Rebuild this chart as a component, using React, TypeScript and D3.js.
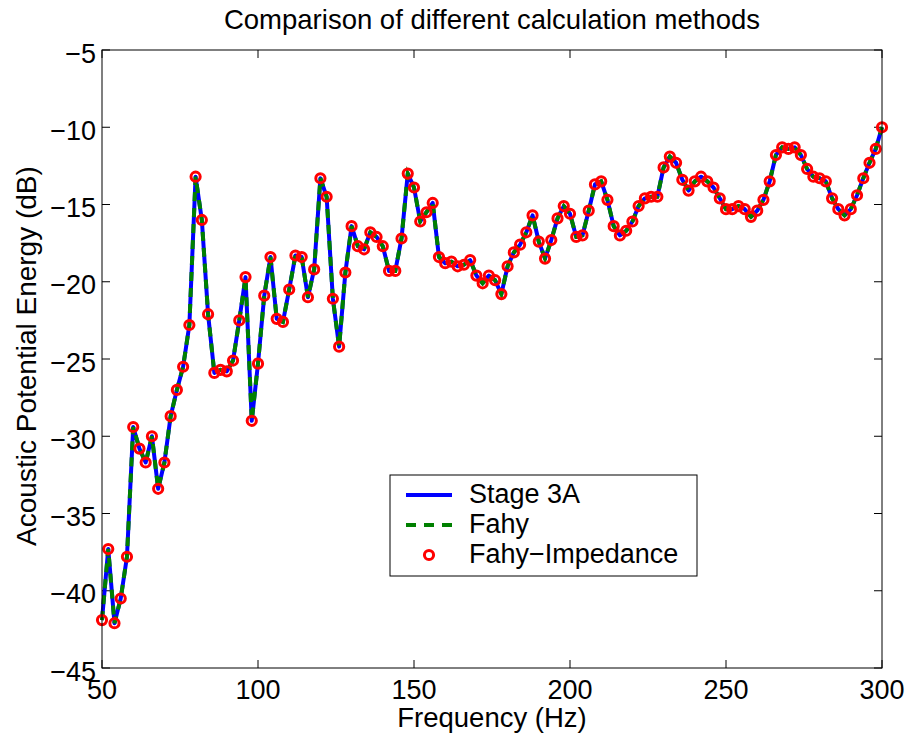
import React from "react";
import * as d3 from "d3";

const frequencies: number[] = [
  50, 52, 54, 56, 58, 60, 62, 64, 66, 68, 70, 72, 74, 76, 78, 80, 82, 84, 86, 88,
  90, 92, 94, 96, 98, 100, 102, 104, 106, 108, 110, 112, 114, 116, 118, 120, 122, 124, 126, 128,
  130, 132, 134, 136, 138, 140, 142, 144, 146, 148, 150, 152, 154, 156, 158, 160, 162, 164, 166, 168,
  170, 172, 174, 176, 178, 180, 182, 184, 186, 188, 190, 192, 194, 196, 198, 200, 202, 204, 206, 208,
  210, 212, 214, 216, 218, 220, 222, 224, 226, 228, 230, 232, 234, 236, 238, 240, 242, 244, 246, 248,
  250, 252, 254, 256, 258, 260, 262, 264, 266, 268, 270, 272, 274, 276, 278, 280, 282, 284, 286, 288,
  290, 292, 294, 296, 298, 300,
];

const stage3A: number[] = [
  -41.9, -37.3, -42.1, -40.5, -37.8, -29.4, -30.8, -31.7, -30.0, -33.4,
  -31.7, -28.7, -27.0, -25.5, -22.8, -13.2, -16.0, -22.1, -25.9, -25.7,
  -25.8, -25.1, -22.5, -19.7, -29.0, -25.3, -20.9, -18.4, -22.4, -22.6,
  -20.5, -18.3, -18.4, -21.0, -19.2, -13.3, -14.5, -21.1, -24.2, -19.4,
  -16.4, -17.7, -17.9, -16.8, -17.1, -17.7, -19.3, -19.3, -17.2, -13.0,
  -13.9, -16.1, -15.5, -14.9, -18.4, -18.8, -18.7, -19.0, -18.9, -18.6,
  -19.6, -20.1, -19.6, -19.9, -20.8, -19.0, -18.1, -17.6, -16.8, -15.7,
  -17.4, -18.5, -17.3, -15.9, -15.1, -15.6, -17.1, -17.0, -15.4, -13.7,
  -13.5, -14.7, -16.4, -17.0, -16.7, -16.1, -15.1, -14.6, -14.5, -14.5,
  -12.6, -11.9, -12.3, -13.4, -14.1, -13.5, -13.2, -13.5, -13.9, -14.6,
  -15.3, -15.3, -15.1, -15.3, -15.8, -15.4, -14.7, -13.5, -11.8, -11.3,
  -11.4, -11.3, -11.8, -12.7, -13.2, -13.3, -13.5, -14.6, -15.3, -15.7,
  -15.3, -14.4, -13.3, -12.3, -11.4, -10.0,
];
const fahy: number[] = stage3A.slice();
const fahyImpedance: number[] = stage3A.slice();

const xTicks: number[] = [50, 100, 150, 200, 250, 300];
const yTicks: number[] = [-45, -40, -35, -30, -25, -20, -15, -10, -5];
const legendLabels: string[] = ["Stage 3A", "Fahy", "Fahy\u2212Impedance"];

const W = 909;
const H = 733;
const L = 102;
const R = 882;
const T = 50;
const B = 668;
const FONT = "'Liberation Sans', Arial, Helvetica, sans-serif";

export default function App() {
  const x = d3.scaleLinear().domain([50, 300]).range([L, R]);
  const y = d3.scaleLinear().domain([-45, -5]).range([B, T]);
  const fmt = (v: number) => (v < 0 ? "\u2212" + Math.abs(v) : String(v));

  const mk = (vals: number[]) =>
    d3
      .line<number>()
      .x((_, i) => x(frequencies[i]))
      .y((v) => y(v))(vals) || "";

  const tl = 8;

  return (
    <svg
      width={W}
      height={H}
      style={{ position: "fixed", left: 0, top: 0, background: "#fff" }}
      fontFamily={FONT}
    >
      <rect x={0} y={0} width={W} height={H} fill="#fff" />
      <rect x={L} y={T} width={R - L} height={B - T} fill="#fff" />

      {/* ticks */}
      {xTicks.map((t) => (
        <g key={"xt" + t}>
          <line x1={x(t)} x2={x(t)} y1={B} y2={B - tl} stroke="#000" strokeWidth={1} />
          <line x1={x(t)} x2={x(t)} y1={T} y2={T + tl} stroke="#000" strokeWidth={1} />
          <text x={x(t)} y={699} fontSize={27} textAnchor="middle" fill="#000">
            {fmt(t)}
          </text>
        </g>
      ))}
      {yTicks.map((t) => (
        <g key={"yt" + t}>
          <line x1={L} x2={L + tl} y1={y(t)} y2={y(t)} stroke="#000" strokeWidth={1} />
          <line x1={R} x2={R - tl} y1={y(t)} y2={y(t)} stroke="#000" strokeWidth={1} />
          <text x={96} y={y(t) + 12.7} fontSize={27} textAnchor="end" fill="#000">
            {fmt(t)}
          </text>
        </g>
      ))}

      {/* series */}
      <path d={mk(stage3A)} fill="none" stroke="#0000ff" strokeWidth={4} strokeLinejoin="round" />
      <path d={mk(fahy)} fill="none" stroke="#008000" strokeWidth={4} strokeDasharray="9,7" />
      {fahyImpedance.map((v, i) => (
        <circle
          key={"c" + i}
          cx={x(frequencies[i])}
          cy={y(v)}
          r={4.6}
          fill="none"
          stroke="#ff0000"
          strokeWidth={3}
        />
      ))}

      {/* axes box */}
      <rect x={L} y={T} width={R - L} height={B - T} fill="none" stroke="#000" strokeWidth={1} />

      {/* title & labels */}
      <text x={(L + R) / 2} y={29} fontSize={27.5} textAnchor="middle" fill="#000">
        Comparison of different calculation methods
      </text>
      <text x={(L + R) / 2} y={727} fontSize={27.5} textAnchor="middle" fill="#000">
        Frequency (Hz)
      </text>
      <text
        transform={`translate(36,356) rotate(-90)`}
        fontSize={28}
        textAnchor="middle"
        fill="#000"
      >
        Acoustic Potential Energy (dB)
      </text>

      {/* legend */}
      <g>
        <rect x={390} y={475} width={307} height={101} fill="#fff" stroke="#000" strokeWidth={1} />
        <line x1={406} x2={452} y1={495} y2={495} stroke="#0000ff" strokeWidth={4} />
        <line x1={406} x2={452} y1={525} y2={525} stroke="#008000" strokeWidth={4} strokeDasharray="10,8" />
        <circle cx={429} cy={555} r={4.6} fill="none" stroke="#ff0000" strokeWidth={3} />
        {legendLabels.map((lab, i) => (
          <text key={lab} x={469} y={495 + i * 30 + 8} fontSize={27} fill="#000">
            {lab}
          </text>
        ))}
      </g>
    </svg>
  );
}
